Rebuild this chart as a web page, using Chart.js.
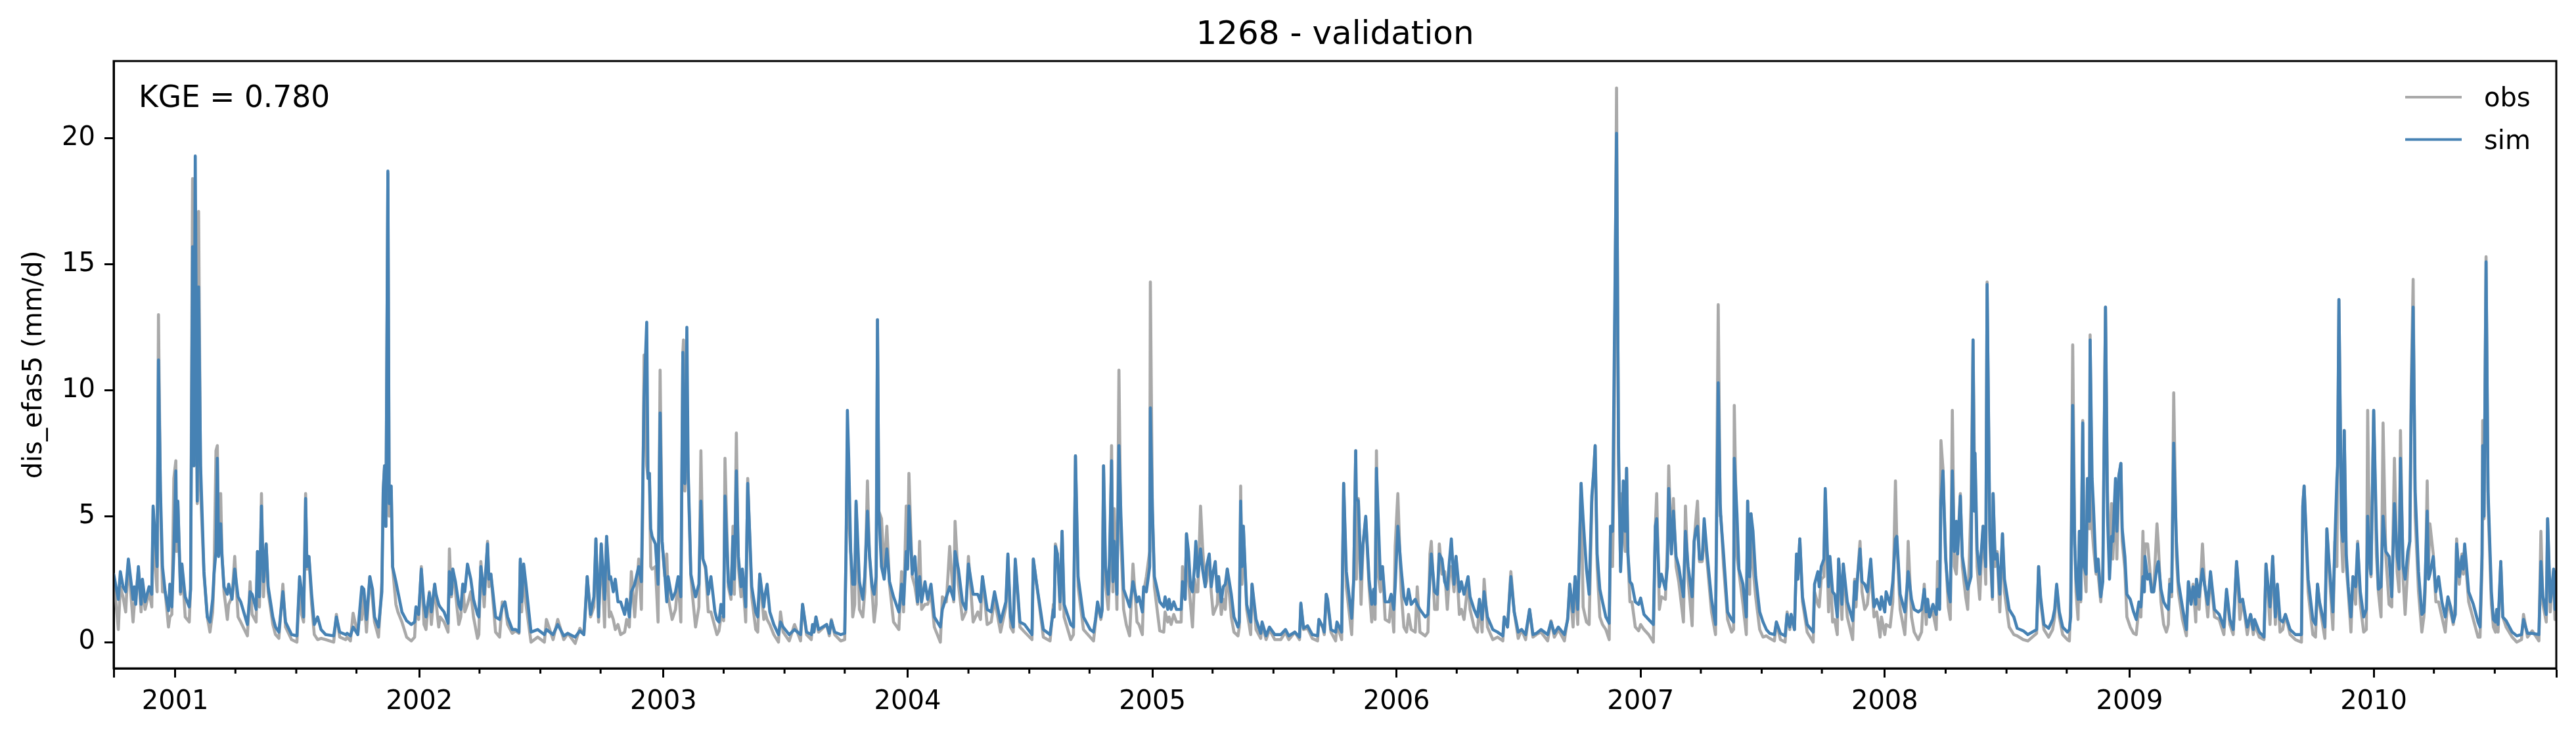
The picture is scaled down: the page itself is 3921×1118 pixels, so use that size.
<!DOCTYPE html>
<html>
<head>
<meta charset="utf-8">
<title>1268 - validation</title>
<script src="https://cdn.jsdelivr.net/npm/chart.js@4/dist/chart.umd.js"></script>
<style>
    html, body { margin: 0; padding: 0; background: #fff; }
    canvas { display: block; }
</style>
</head>
<body>
<canvas id="hydrograph" width="3921" height="1118"></canvas>
<script>
const daysA = [
    0,7,10,14,18,22,29,31,33,37,
    41,43,47,53,57,59,62,65,67,70,
    73,77,82,84,87,90,93,94,96,100,
    102,107,113,115,118,120,122,125,127,130,
    135,140,144,148,150,153,155,157,160,162,
    165,170,172,177,181,186,190,200,204,207,
    213,215,218,221,224,228,231,238,242,247,
    253,257,266,274,278,281,284,287,289,292,
    296,300,305,310,317,329,333,338,347,349,
    354,358,365,368,371,374,378,383,387,390,
    396,401,403,405,407,410,412,415,417,422,
    425,431,438,445,450,452,456,460,464,467,
    472,475,480,482,486,488,494,500,502,505,
    507,511,516,519,522,525,529,534,538,544,
    546,549,554,559,561,564,571,577,581,585,
    589,596,601,606,608,610,613,616,624,634,
    644,647,657,664,673,679,690,697,703,705,
    708,713,718,721,725,729];
const obsA = [
    2.6,.5,2.2,1.8,1.2,3.2,.8,1.5,1.8,2.9,
    1.2,2.3,1.3,2.0,1.4,5.3,3,2.0,13,5.5,
    2.0,2.0,.6,1.0,1.1,6.5,7.2,3.6,5.5,1.9,
    3.1,1.0,.8,2.1,18.4,7,14,5.5,17.1,6,
    2.7,1.0,.4,1.2,2.5,7.6,7.8,3.5,5.9,3.5,
    2.0,.9,1.5,1.8,3.4,1.0,.8,.25,2.4,1.1,
    .8,3.6,1.4,5.9,1.8,3.9,2.0,.7,.3,.15,
    2.3,.6,.1,0,2.5,1.1,.8,5.9,2.9,3.4,
    1.5,.3,.1,.15,.1,0,1.1,.2,.1,.2,
    .05,1.15,.3,1.2,.9,1.9,.4,2.6,1.7,.8,
    .2,2.4,6,7,4.6,18.6,5,6,3,1.5,
    1.2,.8,.2,.05,.2,1.3,.9,3.0,.7,.5,
    2.0,.7,2.3,1.6,.6,1.0,.8,.4,3.7,1.8,
    2.9,2.0,.7,1.0,2.3,1.2,1.5,2.0,1.0,.15,
    .3,3.2,1.4,4.0,2.2,2.7,.4,.2,1.6,1.5,
    .7,.35,.45,.35,3.2,1.2,3.0,1.6,0,.2,
    0,.9,.1,.9,.1,.35,-.05,.55,.3,1.1,
    2.6,1.0,1.4,4.1,.8,3.9];
const simA = [
    2.7,1.7,2.8,2.2,2.0,3.3,1.7,2.2,1.5,3.0,
    1.5,2.5,1.6,2.2,1.9,5.4,4.2,3.0,11.2,6,
    3.0,2.0,1.25,2.3,1.4,3.6,6.8,4,5.6,2.0,
    3.1,1.8,1.4,2.1,15.7,7,19.3,5.6,14.1,7,
    2.8,1.0,.8,1.7,2.7,3.6,7.3,3.4,4.7,3.4,
    2.2,1.9,2.3,1.7,2.9,1.8,1.6,.7,2.0,1.9,
    1.3,3.6,1.8,5.4,2.4,3.9,2.2,1.0,.6,.4,
    2.0,.8,.3,.25,2.6,2.0,1.0,5.7,3.0,3.4,
    1.9,.7,1.0,.5,.3,.25,1.0,.4,.3,.35,
    .25,.6,.3,1.3,2.2,2.1,.9,2.6,2.1,1.0,
    .6,2.0,6,7,4.6,18.7,5.5,6.2,3,2.4,
    2.0,1.2,.85,.7,.8,1.4,1.1,2.9,1.5,1.0,
    1.95,1.2,2.3,1.9,1.5,1.4,1.2,.75,2.8,1.9,
    2.9,2.4,1.5,1.3,2.3,2.0,3.1,2.5,1.7,1.1,
    1.0,3.0,1.9,3.9,2.5,2.7,1.0,.9,1.4,1.6,
    1.0,.5,.5,.4,3.3,1.6,3.1,2.4,.4,.5,
    .3,.5,.3,.7,.25,.35,.2,.45,.3,1.2,
    2.6,1.1,1.8,4.1,1.0,3.9];

const daysB = [
    734,737,741,743,747,750,754,758,764,767,
    771,774,779,785,789,791,793,797,799,801,
    803,805,810,814,817,820,824,827,829,835,
    840,844,848,851,852,854,857,859,863,866,
    870,875,878,881,885,889,893,899,902,905,
    908,912,914,919,923,926,928,931,934,938,
    940,945,948,954,960,963,966,972,974,977,
    981,987,994,997,1001,1010,1018,1027,1030,1036,
    1043,1045,1047,1050,1054,1066,1070,1073,1078,1087,
    1093,1095,1097,1099,1102,1105,1108,1110,1115,1120,
    1123,1127,1130,1134,1137,1140,1142,1144,1148,1152,
    1156,1160,1166,1174,1178,1181,1185,1187,1189,1194,
    1198,1202,1205,1208,1213,1217,1222,1227,1236,1239,
    1245,1250,1256,1258,1263,1269,1274,1278,1285,1292,
    1296,1299,1306,1312,1317,1326,1334,1337,1341,1345,
    1348,1355,1362,1373,1375,1380,1390,1400,1405,1406,
    1408,1411,1415,1418,1421,1431,1435,1438,1442,1450,
    1460];
const obsB = [
    .6,4.2,1.0,1.2,.9,.5,.7,.3,.4,.9,
    .6,2.8,1,3.3,1.3,5,11.4,7,6.5,6.7,
    3,2.9,3,.8,10.8,4,2.6,3.5,1.8,.9,
    1.3,2.5,.8,11.5,12,6,9,6.5,2.6,1.7,
    .6,1.4,7.6,3.3,2.9,1.2,1.2,.6,.3,.45,
    1,.85,7.3,2.2,1.7,4.6,1.9,8.3,3,1.8,
    2.8,.8,6.5,1.8,.5,.4,2.7,.9,1.2,.9,
    .7,.3,0,1.2,.4,.05,.7,.05,1.5,.3,
    .1,.7,.4,1,.4,.7,.25,.9,.3,.05,
    .1,3.6,8,5,3.5,1,1.5,5.5,1.3,1,
    2,6.4,3.4,2,.8,1.5,12.8,5.2,4.9,2.8,
    4.6,2.3,.8,.5,2.8,1.2,5.4,3,6.7,2.6,
    2.2,1.5,4,1.3,1.5,1.5,1.9,.6,0,1.8,
    1.6,3.8,1.6,4.8,2.3,.9,1.2,3.4,.8,1.2,
    .9,2.6,.7,.8,1.7,.4,1.4,3.4,.6,.4,
    3.2,.6,.4,.1,3.3,2.3,.2,.05,1.5,1,
    3.9,3.5,1.3,4.4,1,.1,.3,7.4,2.2,.5,
    .2];
const simB = [
    1.7,4.2,2.5,2.6,2.0,2.5,1.6,1.6,1.1,1.7,
    1.0,2.0,2.3,3.0,2.4,6,9.7,12.7,6.5,6.7,
    4.5,4.2,3.9,2.3,9.1,4,2.7,1.6,2.6,1.7,
    2,2.6,1.8,11.5,6.4,6.3,12.5,6.8,2.7,2.3,
    1.8,2.3,5.6,3.3,3,1.9,2.6,1.2,.9,.8,
    1.5,1,5.8,2.4,1.9,4.2,2.5,6.8,3.4,2.2,
    2.9,1.4,6.3,2.2,1.2,1,2.7,1.4,1.9,2.3,
    1.2,.7,.3,.8,.6,.3,.5,.3,1.5,.4,
    .3,.7,.4,1,.5,.7,.35,.85,.4,.3,
    .35,3.6,9.2,7.3,3.6,2.3,2.3,5.6,2.4,1.7,
    2.6,5.2,3.5,2.2,1.9,2.6,12.8,5.2,3,2.5,
    3.7,2.4,1.8,1.2,2.3,1.5,3.6,2.9,5.4,2.7,
    3.4,1.6,2.6,1.6,2.4,1.7,2.3,1,.6,1.3,
    1.8,2.2,1.7,3.6,2.9,1.6,1.3,3.1,1.9,1.9,
    1.6,2.6,1.3,1.2,2,.8,1.6,3.5,1,.6,
    3.3,.8,.7,.3,3.3,2.3,.5,.3,1.3,1,
    3.8,3.5,1.6,4.4,1.5,.7,.6,7.4,2.6,1,
    .5];

const daysC = [
    1465,1468,1471,1476,1478,1480,1483,1487,1489,1492,
    1494,1496,1500,1503,1506,1510,1514,1519,1524,1530,
    1533,1538,1540,1544,1549,1550,1553,1556,1561,1564,
    1570,1572,1576,1578,1581,1585,1589,1596,1598,1602,
    1604,1607,1610,1613,1616,1618,1621,1625,1628,1632,
    1634,1638,1641,1644,1647,1650,1652,1656,1659,1662,
    1665,1671,1675,1681,1683,1685,1687,1689,1694,1700,
    1702,1708,1715,1717,1723,1728,1736,1745,1752,1757,
    1766,1773,1775,1779,1785,1792,1800,1802,1808,1810,
    1813,1815,1820,1827,1829,1836,1839,1843,1851,1854,
    1857,1858,1861,1865,1868,1872,1877,1881,1884,1886,
    1888,1891,1894,1897,1901,1907,1910,1914,1916,1920,
    1925,1929,1933,1936,1940,1946,1949,1953,1961,1965,
    1968,1970,1975,1979,1982,1986,1990,1994,1997,2000,
    2004,2007,2012,2015,2019,2025,2028,2034,2039,2042,
    2046,2049,2054,2062,2069,2077,2079,2084,2089,2094,
    2100,2105,2111,2117,2122,2127,2134,2144,2149,2154,
    2160,2169,2174,2177,2182,2185,2189];
const obsC = [
    .05,.8,1.5,.9,1.3,7.0,2.3,1.3,2.5,7.8,
    2.0,5.3,1.3,10.8,4,1.3,.7,.25,3.1,.8,
    .7,.3,2,2.6,3.6,14.3,5.2,2.2,1.1,.45,
    .4,1.2,.8,1.0,.7,1.1,.8,.8,3.0,1.7,
    4.3,2.5,1.5,.6,2.5,2.0,2.0,5.4,3.8,2.2,
    2.4,3.4,2.0,1.1,1.3,1.5,2.6,1.1,1.7,1.3,
    2.9,1.0,.4,.25,.6,6.2,2.3,4.6,1.3,.3,
    2.3,.5,.15,.7,.1,.5,.1,.1,.4,.1,
    .4,.1,1.5,.5,.55,.15,.05,.9,.55,.3,
    1.9,1.6,.4,.05,.7,.1,6.3,2.2,.3,2.5,
    7.6,2.5,5.7,1.5,3.9,4.9,2.2,.8,2.1,.9,
    7.6,2.6,2.0,3,.9,.8,1.7,.4,3.8,5.9,
    2.0,.6,.4,1.1,.5,.4,2.2,.4,.25,.4,
    3.5,4,1.3,1.3,3.9,2.7,2.8,1.3,2.6,3.0,
    2.0,3.4,1.1,1.3,.9,2.4,1.3,.6,.4,1.5,
    .4,2.5,.6,.1,.2,.05,1,.6,2.8,1.2,
    .15,.5,.1,1.3,.2,.3,.4,.05,.85,.2,
    .5,.05,1.0,2.3,.6,2.6,.7];
const simC = [
    .4,.9,1.6,1.0,1.3,7.0,3.0,1.9,3.4,7.2,
    2.4,4.0,1.9,7.8,5.0,2.1,1.8,1.4,2.4,1.6,
    1.8,1.2,2.2,2.0,3.0,9.3,5.3,2.6,2.0,1.6,
    1.4,1.8,1.3,1.7,1.3,1.6,1.3,1.3,2.4,1.7,
    4.3,3.6,2.2,2.0,3.0,4.0,2.6,3.7,2.9,2.2,
    3.0,3.5,2.2,2.8,3.2,2.0,2.6,1.6,2.2,2.3,
    2.9,1.9,1.0,.6,.8,5.6,3.0,4.6,1.5,.8,
    2.3,.9,.35,.8,.25,.6,.3,.3,.5,.25,
    .4,.2,1.55,.55,.65,.3,.25,.9,.6,.4,
    1.9,1.7,.5,.4,.8,.4,6.3,2.8,.95,2.5,
    7.6,5.7,5.6,2.5,3.9,5.0,2.5,1.5,2.1,1.5,
    6.9,4.7,2.5,3.0,1.6,1.6,1.9,1.3,2.2,4.6,
    2.9,1.8,1.5,2.1,1.5,1.7,1.5,1.3,1.0,1.1,
    2.6,3.5,2.0,1.9,3.5,3.3,2.4,2.1,3.2,4.1,
    2.3,3.4,2.0,2.4,1.9,2.6,1.8,1.3,1.0,1.7,
    .9,2.0,1.0,.5,.4,.25,1.0,.6,2.6,1.2,
    .4,.5,.3,1.3,.3,.35,.5,.3,.8,.35,
    .6,.3,.9,2.3,1.2,2.6,1.3];

const daysD = [
    2194,2197,2202,2206,2210,2213,2215,2218,2222,2226,
    2231,2236,2238,2241,2243,2247,2250,2253,2255,2257,
    2260,2262,2264,2267,2270,2275,2280,2283,2288,2295,
    2302,2305,2307,2311,2314,2320,2323,2325,2329,2332,
    2336,2340,2347,2350,2354,2360,2363,2366,2368,2371,
    2375,2378,2382,2389,2395,2399,2402,2403,2407,2413,
    2419,2422,2423,2427,2430,2436,2441,2443,2446,2448,
    2451,2455,2461,2466,2471,2476,2483,2486,2492,2499,
    2502,2506,2508,2513,2516,2518,2521,2525,2532,2541,
    2543,2548,2550,2553,2557,2559,2564,2566,2570,2573,
    2577,2579,2584,2586,2592,2600,2603,2605,2607,2611,
    2614,2618,2622,2627,2632,2636,2641,2643,2648,2650,
    2656,2660,2664,2666,2671,2678,2681,2683,2688,2692,
    2698,2703,2707,2710,2712,2715,2720,2725,2727,2730,
    2732,2735,2739,2743,2746,2749,2752,2755,2757,2761,
    2764,2769,2772,2777,2780,2782,2783,2786,2790,2792,
    2795,2799,2801,2805,2809,2810,2813,2816,2820,2824,
    2827,2834,2841,2846,2855,2862,2875,2878,2881,2886,
    2893,2899,2902,2905,2909,2914,2921];
const obsD = [
    6.3,1.4,.8,.7,5.5,6.9,7.8,3,1.0,.7,
    .5,.1,4.6,3.0,6.5,22,7,3,5.9,5,
    3.6,6.9,3.5,1.6,1.6,.6,.45,.7,.5,.3,
    0,4.6,5.9,1.3,1.8,1.7,3.9,7,3.6,5.7,
    3.0,2.4,.8,5.4,2.5,.65,4.0,5.0,5.6,3.2,
    3.2,4.3,3.3,1.2,.3,13.4,5,5,3,.9,
    .4,.5,9.4,3.4,2.8,1.5,.3,5.6,1.9,5.1,
    3,1.8,.5,.2,.25,.15,.05,.8,.1,0,
    1.2,.5,1.1,.5,3.4,2.5,4.1,1.6,.4,0,
    2,1.5,1.4,2.5,2.6,6.0,1.2,3.3,.8,.9,
    .3,3.3,.9,3.1,1.0,.1,2.5,1.4,2.5,4.0,
    2.0,1.3,1.5,2.9,1.0,1.2,.2,1.0,.3,.7,
    .6,1.6,6.4,4,1.3,.3,1.8,4.0,1.0,.4,
    .1,.4,2.3,.7,1.7,1.0,1.2,.5,3.2,1.5,
    8.0,6.9,3.5,1.4,.9,9.2,3.0,2.7,3.8,5.9,
    3.0,1.8,1.3,5.5,12,7,7.1,3.0,1.7,3,
    4.6,2.3,14.3,4,1.7,5.9,3,3.6,1.2,4.3,
    2.0,.6,.3,.25,.1,.05,.35,3.0,1.6,.5,
    .2,.5,1,2.2,1.0,.3,.1];
const simD = [
    6.3,4.9,2.9,1.9,5.8,6.8,7.8,3.5,2.1,1.6,
    1.0,.75,4.6,4.4,9.9,20.2,7.8,2.8,4.0,6.4,
    4.4,6.9,3.5,2.4,2.3,1.6,1.5,1.75,1.1,.9,
    .7,4.6,4.9,2.2,2.7,2.1,3.0,6.1,3.5,5.2,
    3.4,3.0,1.8,4.4,3.0,1.8,4.0,4.5,4.6,3.3,
    3.3,4.9,3.6,1.7,.7,10.3,5.5,4.9,3.5,1.2,
    .9,.8,7.3,5.1,2.9,2.3,1.0,5.6,2.6,5.1,
    4.4,2.6,1.2,.8,.5,.35,.3,.8,.35,.25,
    1.1,.6,1.1,.5,3.5,2.5,4.1,1.8,.7,.4,
    2.3,2.8,2.2,3.0,3.3,6.1,2.2,3.4,2.0,1.9,
    1.0,3.3,1.5,3.1,1.6,.85,2.4,1.7,2.5,3.7,
    2.4,2.3,2.0,3.3,1.4,1.7,1.3,1.8,1.2,2.0,
    1.5,2.4,4.1,4.2,1.9,1.2,2.1,2.8,1.7,1.3,
    1.2,1.3,2.1,1.2,1.7,1.0,1.5,1.1,2.1,1.3,
    5.6,6.8,3.3,2.0,1.6,6.8,3.6,4.8,3.5,5.8,
    3.4,2.5,2.1,2.6,12.0,5.2,7.5,3.7,2.7,3.5,
    4.6,3.0,14.2,4.5,1.8,5.9,3.3,3.5,1.9,4.3,
    2.5,1.3,1.0,.55,.45,.3,.5,3.0,1.8,.7,
    .55,.9,1.3,2.3,1.2,.6,.4];

const daysE = [
    2924,2926,2929,2932,2934,2937,2939,2941,2944,2946,
    2949,2951,2954,2955,2958,2960,2964,2967,2971,2974,
    2978,2981,2984,2987,2989,2993,2995,2998,3001,3003,
    3007,3010,3015,3020,3024,3028,3031,3034,3036,3037,
    3041,3044,3047,3050,3055,3057,3061,3065,3069,3072,
    3074,3077,3080,3084,3087,3093,3099,3102,3106,3109,
    3113,3114,3118,3120,3123,3126,3131,3135,3141,3148,
    3155,3159,3164,3169,3174,3179,3183,3190,3195,3199,
    3201,3208,3215,3218,3224,3228,3232,3235,3239,3243,
    3247,3254,3262,3271,3273,3275,3281,3288,3292,3295,
    3298,3306,3309,3312,3318,3321,3324,3325,3327,3331,
    3333,3335,3338,3341,3345,3348,3352,3355,3359,3364,
    3368,3370,3373,3375,3379,3383,3386,3390,3393,3397,
    3402,3406,3410,3414,3417,3419,3423,3426,3430,3433,
    3435,3438,3441,3446,3451,3454,3456,3459,3461,3463,
    3468,3472,3476,3481,3486,3490,3494,3498,3501,3503,
    3507,3511,3513,3515,3521,3528,3535,3538,3541,3542,
    3544,3547,3550,3555,3558,3561,3563,3565,3569,3572,
    3577,3586,3593,3600,3603,3609,3616,3626,3629,3632,
    3637,3639,3643,3645,3648,3650,3652];
const obsE = [
    .05,1.6,11.8,4,2.0,.9,4.4,1.6,8.8,3,
    2,6.4,4.5,12.2,4.5,3.8,2.7,2.7,1.6,3,
    13.3,6,3.0,5.5,3.3,6,3.3,6.6,7.1,4,
    2.9,1.0,.6,.35,.3,1.4,1.0,4.4,2.0,3.9,
    3.9,3,2,2.0,4.7,3.9,1.6,.7,.4,.7,
    2.5,1.8,9.9,3.4,2.0,.9,.25,2.4,1.6,2.3,
    .8,2.5,1.3,2.3,3.9,2.4,1.0,2.7,1.0,.9,
    .3,2.0,.7,.3,3.2,.9,1.7,.3,1.1,.3,
    .7,.2,.1,3.1,.7,3.4,.7,2.2,.4,.5,
    1.1,.3,.1,0,5.4,6.2,2,.3,.2,2.3,
    1.5,.15,4.5,3,.5,4,3,6.5,13.6,4,
    2.8,8.4,3,2.0,.4,2.6,1.5,4,1.5,.4,
    .5,9.2,3,2.6,9.2,3.5,2.0,1.0,8.7,3.5,
    1.5,1.4,7.3,2.8,2.0,8.4,2.5,1.1,3.0,4,
    10,14.4,5,2.0,.4,1.0,2,6.4,3.0,4.7,
    3.5,1.6,1.6,1.0,.4,1.7,1.2,.7,1.5,4.1,
    2.3,3.5,2.7,3.6,1.6,.9,.2,.2,3,8.8,
    4.9,15.3,5.5,1.5,.6,.4,1.3,.4,3.2,1.0,
    .6,.2,0,.1,1.1,.2,.45,.05,4.4,1.5,
    .8,4.9,1.2,2,2.8,.9,2.6];
const simE = [
    .5,1.0,9.4,3.9,2.5,1.7,4.4,1.7,8.7,3,
    2.7,6.5,4.8,12.0,6.5,5.4,2.8,3.3,1.8,2.4,
    13.3,5,2.5,4.2,4.0,6.5,4.4,6.6,7.1,4.5,
    3.4,1.9,1.7,1.2,.9,1.6,1.4,2.6,2.0,3.4,
    2.5,2.7,2.0,2.0,3.0,3.2,2.1,1.6,1.4,1.3,
    2.3,2.0,7.9,4.0,2.4,1.4,.5,2.4,1.5,2.2,
    1.5,2.5,1.8,2.3,2.9,2.3,1.5,2.8,1.3,1.1,
    .6,2.1,.9,.5,3.2,1.6,1.7,.6,1.1,.5,
    .9,.4,.2,3.1,1.4,3.4,1.0,2.3,.9,.8,
    1.1,.5,.3,.3,5.4,6.2,2.5,.9,.7,2.3,
    1.6,.6,4.5,3.3,1.2,4.0,6.5,7,13.6,4.5,
    4.0,8.4,3.5,2.2,1.0,2.6,2.2,3.9,2.0,1.0,
    1.3,5.0,3.3,2.7,9.2,4.5,2.1,2.2,5.0,3.6,
    3.4,1.8,5.5,3.4,2.9,7.3,3.0,2.5,3.6,4.0,
    9,13.3,6,2.8,1.1,1.2,2.5,5.2,2.5,2.7,
    3.4,2.0,2.6,1.6,1.0,1.8,1.4,.8,1.1,3.9,
    2.6,3.4,2.9,3.9,2.0,1.5,.8,.6,3.5,7.8,
    5,15.1,6,2.0,.9,.8,1.3,.7,3.2,1.0,
    .85,.4,.25,.3,.9,.35,.35,.3,3.2,1.8,
    1.1,4.9,1.6,2.0,2.9,1.3,2.8];

const simDays = [daysA, daysB, daysC, daysD, daysE].flat();
const obsValues = [obsA, obsB, obsC, obsD, obsE].flat();
const simValues = [simA, simB, simC, simD, simE].flat();

const yearLabels = ["2001","2002","2003","2004","2005","2006","2007","2008","2009","2010"];
const yearTicks = [92,457,822,1187,1553,1918,2283,2648,3014,3379];
const edgeTicks = [0,3652];
const quarterTicks = [
    182,273,363,
    547,638,728,
    912,1003,1093,
    1278,1369,1459,
    1643,1734,1824,
    2008,2099,2189,
    2373,2464,2554,
    2739,2830,2920,
    3104,3195,3285,
    3469,3560];
const valueTicks = [0,5,10,15,20];

const titleText = "1268 - validation";
const yLabel = "dis_efas5 (mm/d)";
const scoreText = "KGE = 0.780";

const OBS_COLOR = "#a9a9a9";
const SIM_COLOR = "#4682b4";
const FONT = "'DejaVu Sans'";

const toPoints = (xs, ys) => xs.map((x, i) => ({ x: x, y: ys[i] }));

// 图框、次刻度、图例和 KGE 文字
const frameAndNotes = {
    id: "frameAndNotes",
    afterDatasetsDraw(chart) {
        const { ctx, chartArea: area, scales: { x } } = chart;
        ctx.save();

        ctx.strokeStyle = "#000";
        ctx.lineWidth = 3;
        ctx.strokeRect(area.left, area.top, area.right - area.left, area.bottom - area.top);

        ctx.beginPath();
        quarterTicks.forEach(day => {
            const px = x.getPixelForValue(day);
            ctx.moveTo(px, area.bottom);
            ctx.lineTo(px, area.bottom + 8);
        });
        ctx.stroke();

        ctx.fillStyle = "#000";
        ctx.textBaseline = "alphabetic";
        ctx.font = "45.5px " + FONT;
        ctx.fillText(scoreText, area.left + 38, area.top + 70);

        ctx.font = "40px " + FONT;
        chart.data.datasets.forEach((ds, i) => {
            const rowY = area.top + 55 + i * 64.5;
            ctx.strokeStyle = ds.borderColor;
            ctx.lineWidth = 4;
            ctx.beginPath();
            ctx.moveTo(area.right - 230, rowY);
            ctx.lineTo(area.right - 144, rowY);
            ctx.stroke();
            ctx.fillText(ds.label, area.right - 110, rowY + 14);
        });
        ctx.restore();
    }
};

new Chart(document.getElementById("hydrograph").getContext("2d"), {
    type: "line",
    data: {
        datasets: [
            {
                label: "obs",
                data: toPoints(simDays, obsValues),
                borderColor: OBS_COLOR,
                borderWidth: 4.6,
                order: 1
            },
            {
                label: "sim",
                data: toPoints(simDays, simValues),
                borderColor: SIM_COLOR,
                borderWidth: 4.6,
                order: 0
            }
        ]
    },
    options: {
        responsive: false,
        devicePixelRatio: 1,
        animation: false,
        elements: {
            point: { radius: 0 },
            line: { tension: 0, borderJoinStyle: "round", borderCapStyle: "round" }
        },
        layout: { padding: { left: 0, right: 30, top: 0, bottom: 0 } },
        plugins: {
            legend: { display: false },
            tooltip: { enabled: false },
            title: {
                display: true,
                text: titleText,
                fullSize: false,
                color: "#000",
                font: { family: FONT, size: 50, weight: "normal" },
                padding: { top: 24, bottom: 9 }
            }
        },
        scales: {
            x: {
                type: "linear",
                min: 0,
                max: 3652,
                afterFit(scale) { scale.height = 100; },
                afterBuildTicks(scale) {
                    scale.ticks = edgeTicks.concat(yearTicks).sort((a, b) => a - b).map(v => ({ value: v }));
                },
                grid: { drawOnChartArea: false, tickLength: 14, tickWidth: 3, tickColor: "#000" },
                border: { display: true, color: "#000", width: 3 },
                ticks: {
                    autoSkip: false,
                    maxRotation: 0,
                    color: "#000",
                    padding: 14,
                    font: { family: FONT, size: 40 },
                    callback(value) {
                        const i = yearTicks.indexOf(value);
                        return i >= 0 ? yearLabels[i] : "";
                    }
                }
            },
            y: {
                min: -1.04,
                max: 23.07,
                afterFit(scale) { scale.width = 173; },
                afterBuildTicks(scale) {
                    scale.ticks = valueTicks.map(v => ({ value: v }));
                },
                grid: { drawOnChartArea: false, tickLength: 14, tickWidth: 3, tickColor: "#000" },
                border: { display: true, color: "#000", width: 3 },
                title: {
                    display: true,
                    text: yLabel,
                    color: "#000",
                    font: { family: FONT, size: 40 },
                    padding: { top: 29, bottom: 0 }
                },
                ticks: {
                    color: "#000",
                    padding: 14,
                    font: { family: FONT, size: 40 }
                }
            }
        }
    },
    plugins: [frameAndNotes]
});
</script>
</body>
</html>
